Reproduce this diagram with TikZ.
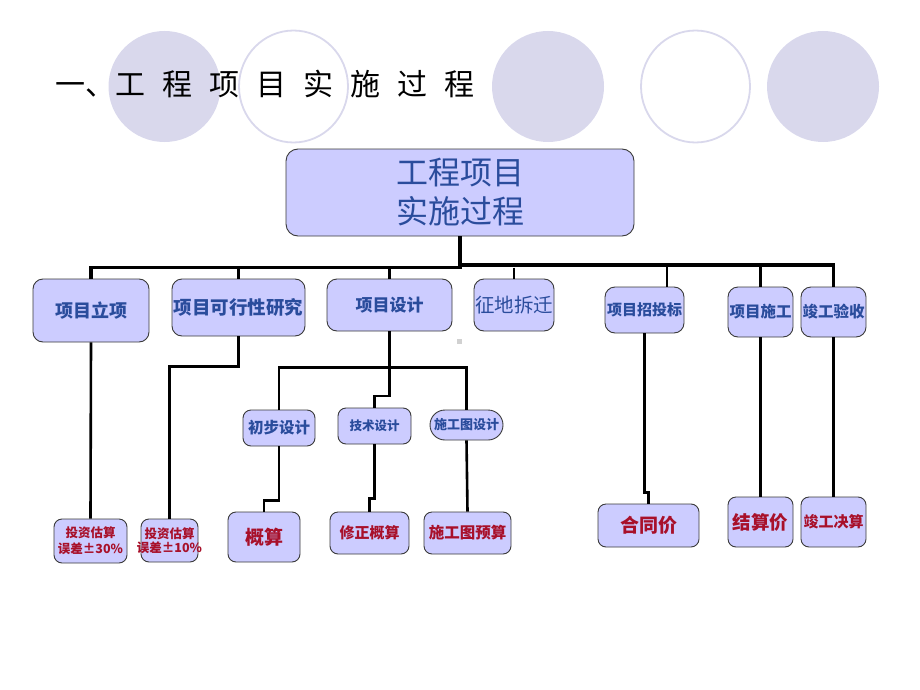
\documentclass[tikz,border=0pt]{standalone}
\usepackage{fontspec}
\setmainfont{Noto Sans CJK SC}
\usepackage{xcolor}
\usetikzlibrary{positioning}
\definecolor{lavender}{HTML}{D9D8EC}
\definecolor{boxfill}{HTML}{CCCCFF}
\definecolor{boxline}{HTML}{3A3A3A}
\definecolor{ink}{HTML}{2A4C9C}
\definecolor{costred}{HTML}{A8102A}
\newcommand{\pxfont}[2]{\fontsize{#1}{#2}\selectfont}
\newcommand{\tgap}{\hspace{17pt}}
\tikzset{
  disc/.style={fill=lavender,draw=none},
  ring/.style={draw=lavender,line width=1.8pt,fill=white},
  box/.style={rounded corners=8pt,draw=boxline,line width=0.9pt,fill=boxfill,align=center,inner sep=1pt},
  stage/.style={box,rounded corners=10pt,text=ink,font=\bfseries\pxfont{17}{20}},
  substage/.style={box,text=ink,font=\bfseries\pxfont{15}{18}},
  cost/.style={box,text=costred,font=\bfseries\pxfont{15}{18}},
  wire/.style={draw=black,line width=2.6pt},
  bus/.style={draw=black,line width=3.2pt}
}

\begin{document}
\begin{tikzpicture}[x=1pt,y=-1pt]
  \useasboundingbox (0,0) rectangle (920,690);
  % background circles
  \fill[disc] (164.5,86.5) ellipse [x radius=56pt,y radius=55.5pt];
  \draw[ring] (293.5,86.5) ellipse [x radius=54.5pt,y radius=56pt];
  \fill[disc] (548,86.5) ellipse [x radius=56pt,y radius=55.5pt];
  \draw[ring] (695.5,86.5) ellipse [x radius=54.5pt,y radius=56pt];
  \fill[disc] (823,86.5) ellipse [x radius=56pt,y radius=55.5pt];
  \node[anchor=base west,inner sep=0pt,font=\pxfont{30}{30}] (title) at (55,96)
    {一、工\tgap 程\tgap 项\tgap 目\tgap 实\tgap 施\tgap 过\tgap 程};

  % root
  \node[box,rounded corners=12pt,minimum width=348pt,minimum height=87pt,text=ink,font=\pxfont{32}{39}] (top) at (460,192.5) {工程项目\\实施过程};

  % stages
  \node[stage,minimum width=116pt,minimum height=63pt,font=\bfseries\pxfont{18}{20}] (lixiang) at (91,310.5) {项目立项};
  \node[stage,minimum width=133pt,minimum height=57pt,inner xsep=0pt,font=\bfseries\pxfont{18.5}{20}] (kexing) at (238.5,307.5) {\makebox[131pt]{项目可行性研究}};
  \node[stage,minimum width=125pt,minimum height=52pt] (sheji) at (389.5,305) {项目设计};
  \node[stage,minimum width=80pt,minimum height=52pt,font=\pxfont{19.5}{22}] (zhengdi) at (514,305) {征地拆迁};
  \node[stage,minimum width=79pt,minimum height=46pt,font=\bfseries\pxfont{15}{18}] (zhaobiao) at (644.5,310) {项目招投标};
  \node[stage,minimum width=65pt,minimum height=50pt,font=\bfseries\pxfont{15.5}{18}] (shigong) at (760.5,312) {项目施工};
  \node[stage,minimum width=65pt,minimum height=50pt,font=\bfseries\pxfont{15.5}{18}] (jungong) at (833.5,312) {竣工验收};

  % design steps
  \node[substage,minimum width=72pt,minimum height=36pt,font=\bfseries\pxfont{15.5}{18}] (chubu) at (279,428) {初步设计};
  \node[substage,minimum width=73pt,minimum height=36pt,font=\bfseries\pxfont{12.5}{15}] (jishu) at (374.5,426) {技术设计};
  \node[substage,rounded corners=15pt,minimum width=73pt,minimum height=30pt,font=\bfseries\pxfont{13}{15}] (shigongtu) at (466.5,425) {施工图设计};

  % costs
  \node[cost,minimum width=73pt,minimum height=44pt,font=\bfseries\pxfont{12.5}{16}] (gusuan30) at (90.5,541) {投资估算\\误差±30\%};
  \node[cost,minimum width=57pt,minimum height=43pt,inner xsep=0pt,font=\bfseries\pxfont{12.5}{14.5}] (gusuan10) at (169.5,540.5) {\makebox[55pt]{投资估算}\\\makebox[55pt]{误差±10\%}};
  \node[cost,minimum width=72pt,minimum height=50pt,font=\bfseries\pxfont{19}{22}] (gaisuan) at (264,537) {概算};
  \node[cost,minimum width=79pt,minimum height=42pt] (xiuzheng) at (369.5,533) {修正概算};
  \node[cost,minimum width=87pt,minimum height=42pt,font=\bfseries\pxfont{15.5}{18}] (yusuan) at (467.5,533) {施工图预算};
  \node[cost,minimum width=101pt,minimum height=43pt,font=\bfseries\pxfont{19}{22}] (hetong) at (648.5,525.5) {合同价};
  \node[cost,minimum width=65pt,minimum height=50pt,font=\bfseries\pxfont{18.5}{22}] (jiesuan) at (760.5,522) {结算价};
  \node[cost,minimum width=65pt,minimum height=50pt] (juesuan) at (833.5,522) {竣工决算};

  % main bus
  \coordinate (busL) at (91,267.5);
  \coordinate (busR) at (833.5,265);
  \coordinate (split) at (389.5,367.5);
  \draw[bus] (top.south) -- (top.south |- busL) -- (busL) -- (lixiang.north);
  \draw[bus] (top.south |- busR) -- (busR) -- (jungong.north);
  \draw[wire] (kexing.north |- busL) -- (kexing.north);
  \draw[wire] (sheji.north |- busL) -- (sheji.north);
  \draw[wire] (zhengdi.north |- busL) -- (zhengdi.north);
  \draw[wire] ([xshift=22.5pt]zhaobiao.north |- busR) -- ([xshift=22.5pt]zhaobiao.north);
  \draw[wire] (shigong.north |- busR) -- (shigong.north);

  % branches
  \draw[wire] (lixiang.south) -- (gusuan30.north);
  \draw[wire] (kexing.south) -- ++(0,30) -| (gusuan10.north);
  \draw[wire] (sheji.south) -- (split);
  \draw[wire] (chubu.north) -- (chubu.north |- split) -- (shigongtu.north |- split) -- (shigongtu.north);
  \draw[wire] (split) -- ++(0,28.5) -| (jishu.north);
  \draw[wire] (chubu.south) -- ++(0,54) -| (gaisuan.north);
  \draw[wire] (jishu.south) -- ++(0,54) -| (xiuzheng.north);
  \draw[wire] (shigongtu.south) -- (yusuan.north);
  \draw[wire] (zhaobiao.south) -- ++(0,159) -| (hetong.north);
  \draw[wire] (shigong.south) -- (jiesuan.north);
  \draw[wire] (jungong.south) -- (juesuan.north);

  \fill[black!18] (457,339) rectangle (462,344);
\end{tikzpicture}
\end{document}
